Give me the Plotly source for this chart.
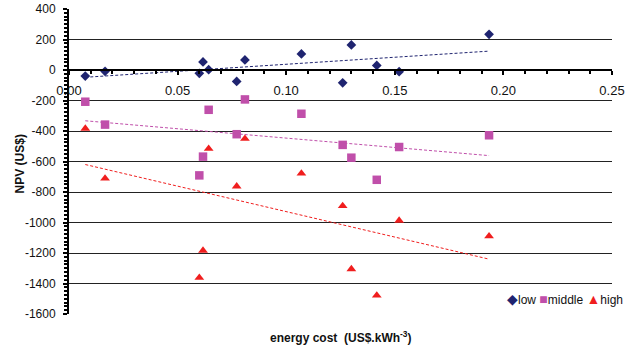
import numpy as np
import plotly.graph_objects as go

energy_cost = [0.0075, 0.0166, 0.0600, 0.0617, 0.0643, 0.0772, 0.0810, 0.1070, 0.1260, 0.1300, 0.1417, 0.1520, 0.1934]
npv_low = [-40, -9, -22, 53, 2, -75, 66, 105, -84, 164, 30, -11, 234]
npv_middle = [-208, -358, -691, -568, -261, -421, -193, -287, -491, -575, -720, -505, -428]
npv_high = [-384, -711, -1362, -1184, -516, -763, -450, -678, -891, -1305, -1478, -987, -1090]

series_names = ["low", "middle", "high"]
colors = ["#1F2470", "#C04FAA", "#F01E1E"]
symbols = ["diamond", "square", "triangle-up"]
sizes = [7.5, 8.5, 8.5]
x_ticks = [0.00, 0.05, 0.10, 0.15, 0.20, 0.25]
y_ticks = [400, 200, 0, -200, -400, -600, -800, -1000, -1200, -1400, -1600]

FONT = "Liberation Sans, Arial, sans-serif"
fig = go.Figure()
x = np.array(energy_cost)
for name, ys, c, s, sz in zip(series_names, [npv_low, npv_middle, npv_high], colors, symbols, sizes):
    fig.add_trace(go.Scatter(x=energy_cost, y=ys, mode="markers", name=name,
                             marker=dict(color=c, symbol=s, size=sz, line=dict(width=0)),
                             showlegend=False))
    k, b = np.polyfit(x, np.array(ys, dtype=float), 1)
    xt = np.array([x.min(), x.max()])
    fig.add_trace(go.Scatter(x=xt, y=k * xt + b, mode="lines", showlegend=False,
                             line=dict(color=c, width=1, dash="3px,2px"), hoverinfo="skip"))

W, H = 639, 354
L, R, T, B = 69, 27, 8.5, 40.3
fig.update_layout(
    width=W, height=H, margin=dict(l=L, r=R, t=T, b=B, autoexpand=False),
    paper_bgcolor="white", plot_bgcolor="white",
    font=dict(family=FONT, size=12, color="#111"),
    xaxis=dict(range=[0, 0.25], tickvals=x_ticks, ticktext=[f"{v:.2f}" for v in x_ticks],
               anchor="free", position=0.8, showline=True, linecolor="black", linewidth=2,
               ticks="outside", ticklen=4, tickwidth=2, tickcolor="black",
               minor=dict(dtick=0.01, ticks="outside", ticklen=3, tickwidth=2, tickcolor="black"),
               showgrid=False, zeroline=False, tickfont=dict(size=13, color="#111"),
               ticklabelstandoff=4, automargin=False),
    yaxis=dict(range=[-1600, 400], tickvals=y_ticks, ticktext=[str(v) for v in y_ticks],
               showline=True, linecolor="black", linewidth=2,
               ticks="outside", ticklen=4, tickwidth=2, tickcolor="black",
               minor=dict(dtick=25, ticks="outside", ticklen=3, tickwidth=1.5, tickcolor="black", showgrid=False),
               showgrid=True, gridcolor="#222", gridwidth=1, zeroline=False,
               tickfont=dict(size=12, color="#111"), ticklabelstandoff=5, automargin=False),
)

fig.add_annotation(text="<b>energy cost  (US$.kWh<sup>-3</sup>)</b>", xref="paper", yref="paper",
                   x=(340 - L) / (W - L - R), y=-(337 - (H - B)) / (H - T - B),
                   xanchor="center", yanchor="middle", showarrow=False,
                   font=dict(size=12, color="#111", family=FONT))
fig.add_annotation(text="<b>NPV (US$)</b>", xref="paper", yref="paper",
                   x=-(L - 20) / (W - L - R), y=(H - B - 164) / (H - T - B),
                   xanchor="center", yanchor="middle", textangle=-90, showarrow=False,
                   font=dict(size=12, color="#111", family=FONT))
legend_txt = " ".join(
    f'<span style="color:{c};font-size:14px">{g}</span>{n}'
    for c, g, n in zip(colors, ["\u25C6", "\u25A0", "\u25B2"], series_names))
fig.add_annotation(text=legend_txt, xref="paper", yref="paper",
                   x=(505 - L) / (W - L - R), y=(H - B - 299) / (H - T - B),
                   xanchor="left", yanchor="middle", showarrow=False,
                   font=dict(size=12, color="#111", family=FONT))

fig.write_html("out.html")
